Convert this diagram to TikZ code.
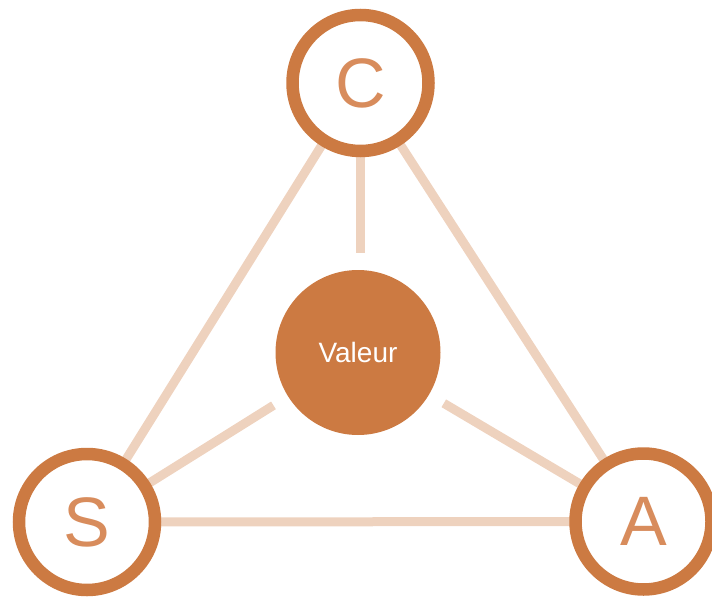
\documentclass[tikz,border=0pt]{standalone}
\usepackage{fontspec}
\setmainfont{Liberation Sans}
\definecolor{ring}{HTML}{CC7A42}
\definecolor{letter}{HTML}{D88C5C}
\definecolor{link}{HTML}{EED2BE}
\tikzset{
  pole/.style={circle, draw=ring, line width=12.5pt, fill=white, minimum size=136pt, inner sep=0pt, text=letter, font=\fontsize{70}{70}\selectfont},
  core/.style={circle, fill=ring, minimum size=165pt, inner sep=0pt, text=white, font=\fontsize{28}{28}\selectfont},
  linkline/.style={draw=link, line width=9pt}
}
\begin{document}
\begin{tikzpicture}[x=1pt,y=-1pt]
\useasboundingbox (0,0) rectangle (712,597);
% coordinates of centres
\coordinate (cC) at (360.5,83);
\coordinate (cS) at (87,522);
\coordinate (cA) at (643.5,521.5);
\node[core] (V) at (358,352.5) {Valeur};
% connectors (drawn below the rings)
\path[linkline] (cC) -- (cS);
\path[linkline] (cC) -- (cA);
\path[linkline] (cS) -- (cA);
\path[linkline, shorten >=17pt] (cC) -- (cC |- V.north);
\path[linkline, shorten >=17pt] (cS) -- (V);
\path[linkline, shorten <=17pt] (V) -- (cA);
% poles
\node[pole] (C) at (cC) {C};
\node[pole] (S) at (cS) {S};
\node[pole] (A) at (cA) {A};
\end{tikzpicture}
\end{document}
